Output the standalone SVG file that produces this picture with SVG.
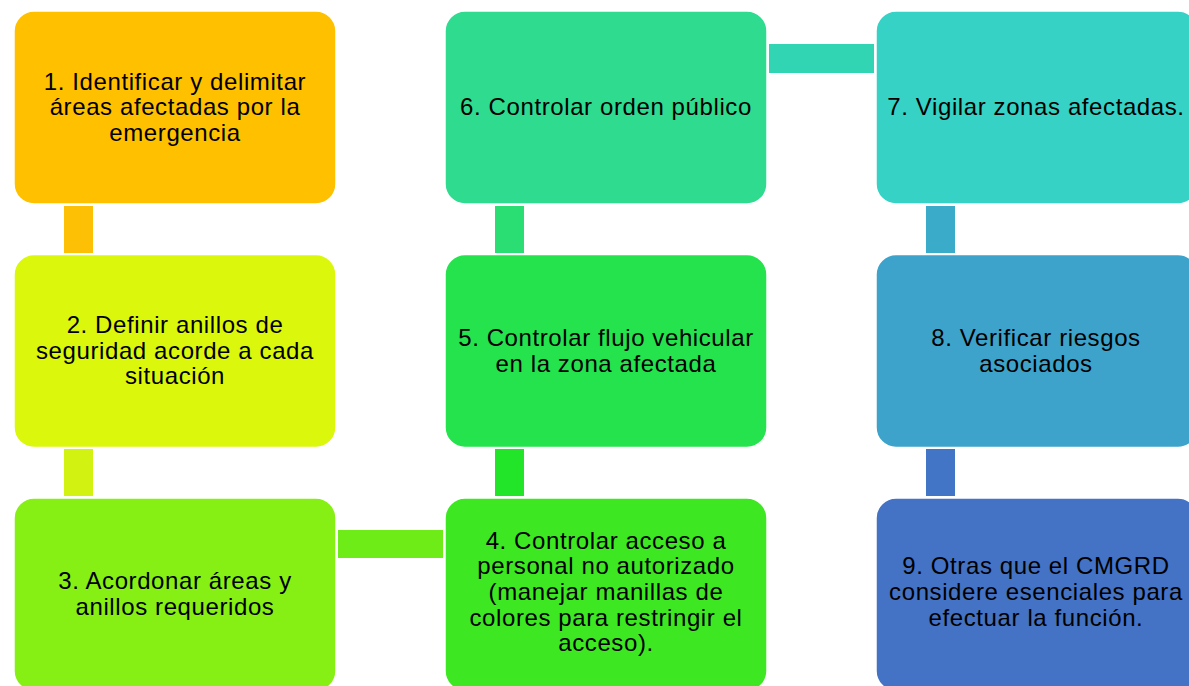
<svg xmlns="http://www.w3.org/2000/svg" width="1189" height="686" viewBox="0 0 1189 686">
<style>
.box{stroke:#ffffff;stroke-width:1.5}
.t{font-family:"Liberation Sans",Arial,sans-serif;font-size:24px;letter-spacing:0.6px;fill:#000000;text-anchor:middle}
</style>
<rect width="1189" height="686" fill="#ffffff"/>
<g id="connectors">
<rect x="64" y="206" width="29" height="47" fill="#FDC004"/>
<rect x="64" y="449" width="29" height="47" fill="#D2F212"/>
<rect x="338" y="530" width="105" height="28" fill="#6EEC18"/>
<rect x="495" y="449" width="29" height="47" fill="#22E52A"/>
<rect x="495" y="206" width="29" height="47" fill="#2ADE74"/>
<rect x="769" y="44" width="105" height="29" fill="#31D5B4"/>
<rect x="926" y="206" width="29" height="47" fill="#3BABCA"/>
<rect x="926" y="449" width="29" height="47" fill="#4375C6"/>
</g>
<g id="node1">
<rect class="box" x="14" y="11" width="322" height="193" rx="20" fill="#FFC000"/>
<text class="t" x="175" y="89.5">1. Identificar y delimitar</text>
<text class="t" x="175" y="115.2">áreas afectadas por la</text>
<text class="t" x="175" y="140.9">emergencia</text>
</g>
<g id="node2">
<rect class="box" x="14" y="254.5" width="322" height="193" rx="20" fill="#DBF70C"/>
<text class="t" x="175" y="333">2. Definir anillos de</text>
<text class="t" x="175" y="358.7">seguridad acorde a cada</text>
<text class="t" x="175" y="384.4">situación</text>
</g>
<g id="node3">
<rect class="box" x="14" y="498" width="322" height="193" rx="20" fill="#86F014"/>
<text class="t" x="175" y="589.3">3. Acordonar áreas y</text>
<text class="t" x="175" y="615">anillos requeridos</text>
</g>
<g id="node4">
<rect class="box" x="445" y="498" width="322" height="193" rx="20" fill="#3DE822"/>
<text class="t" x="606" y="548.6">4. Controlar acceso a</text>
<text class="t" x="606" y="574.3">personal no autorizado</text>
<text class="t" x="606" y="600">(manejar manillas de</text>
<text class="t" x="606" y="625.7">colores para restringir el</text>
<text class="t" x="606" y="651.4">acceso).</text>
</g>
<g id="node5">
<rect class="box" x="445" y="254.5" width="322" height="193" rx="20" fill="#24E34C"/>
<text class="t" x="606" y="345.8">5. Controlar flujo vehicular</text>
<text class="t" x="606" y="371.5">en la zona afectada</text>
</g>
<g id="node6">
<rect class="box" x="445" y="11" width="322" height="193" rx="20" fill="#2EDB8F"/>
<text class="t" x="606" y="115.2">6. Controlar orden público</text>
</g>
<g id="node7">
<rect class="box" x="876" y="11" width="322" height="193" rx="20" fill="#35D2C5"/>
<text class="t" x="1036" y="115.2">7. Vigilar zonas afectadas.</text>
</g>
<g id="node8">
<rect class="box" x="876" y="254.5" width="322" height="193" rx="20" fill="#3DA3CA"/>
<text class="t" x="1036" y="345.8">8. Verificar riesgos</text>
<text class="t" x="1036" y="371.5">asociados</text>
</g>
<g id="node9">
<rect class="box" x="876" y="498" width="322" height="193" rx="20" fill="#4472C4"/>
<text class="t" x="1036" y="574.3">9. Otras que el CMGRD</text>
<text class="t" x="1036" y="600">considere esenciales para</text>
<text class="t" x="1036" y="625.7">efectuar la función.</text>
</g>
</svg>
